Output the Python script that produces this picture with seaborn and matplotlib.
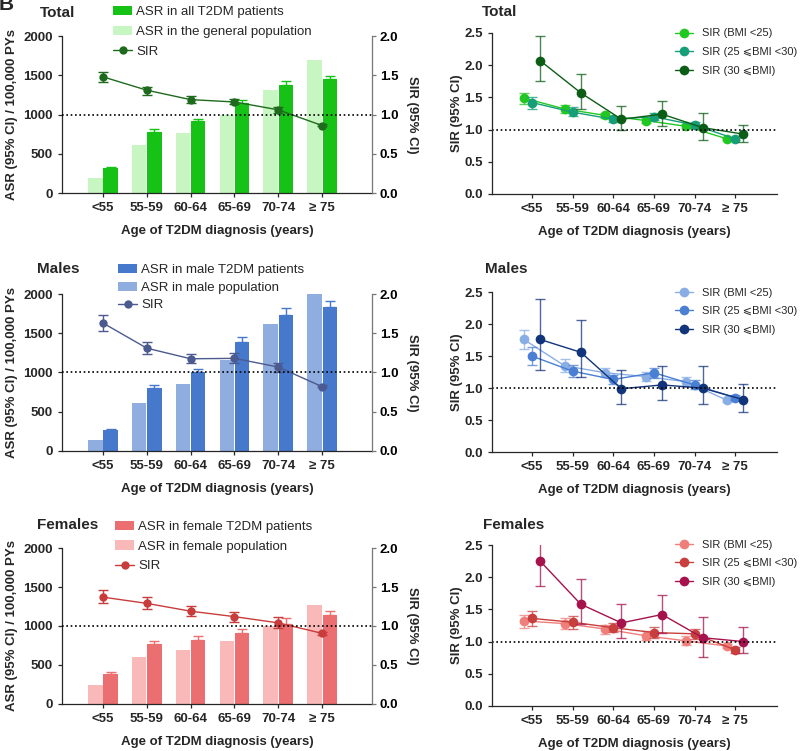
import numpy as np
import pandas as pd
import matplotlib
matplotlib.use("Agg")
import matplotlib.pyplot as plt
import seaborn as sns
from matplotlib.patches import Patch
from matplotlib.lines import Line2D

# ---------------- data ----------------
ages = ["<55", "55-59", "60-64", "65-69", "70-74", "\u2265 75"]

total_asr_t2dm = [323, 779, 913, 1142, 1373, 1447]
total_asr_t2dm_upper = [335, 813, 949, 1190, 1425, 1490]
total_asr_general = [191, 606, 770, 990, 1310, 1694]
total_sir = [1.48, 1.31, 1.19, 1.16, 1.06, 0.86]
total_sir_low = [1.41, 1.255, 1.15, 1.13, 1.025, 0.85]
total_sir_high = [1.545, 1.35, 1.23, 1.20, 1.10, 0.875]

male_asr_t2dm = [268, 800, 1000, 1383, 1730, 1840]
male_asr_t2dm_upper = [281, 843, 1047, 1447, 1820, 1910]
male_asr_general = [140, 608, 851, 1165, 1620, 2000]
male_sir = [1.63, 1.31, 1.175, 1.18, 1.07, 0.82]
male_sir_low = [1.53, 1.23, 1.12, 1.12, 1.005, 0.81]
male_sir_high = [1.73, 1.39, 1.24, 1.25, 1.12, 0.835]

female_asr_t2dm = [383, 766, 821, 906, 1030, 1140]
female_asr_t2dm_upper = [408, 813, 872, 957, 1098, 1196]
female_asr_general = [247, 600, 694, 808, 1000, 1268]
female_sir = [1.37, 1.29, 1.19, 1.12, 1.04, 0.906]
female_sir_low = [1.29, 1.217, 1.13, 1.055, 0.98, 0.89]
female_sir_high = [1.46, 1.366, 1.255, 1.18, 1.11, 0.92]

bmi_names = ["SIR (BMI <25)", "SIR (25 \u2a7dBMI <30)", "SIR (30 \u2a7dBMI)"]

total_bmi_lt25 = [1.49, 1.32, 1.22, 1.14, 1.05, 0.856]
total_bmi_lt25_low = [1.40, 1.26, 1.18, 1.10, 1.02, 0.836]
total_bmi_lt25_high = [1.57, 1.385, 1.26, 1.18, 1.08, 0.876]
total_bmi_25_30 = [1.42, 1.27, 1.16, 1.20, 1.07, 0.856]
total_bmi_25_30_low = [1.32, 1.21, 1.115, 1.15, 1.02, 0.836]
total_bmi_25_30_high = [1.50, 1.35, 1.20, 1.255, 1.125, 0.876]
total_bmi_ge30 = [2.07, 1.57, 1.16, 1.24, 1.03, 0.93]
total_bmi_ge30_low = [1.76, 1.32, 1.00, 1.06, 0.84, 0.80]
total_bmi_ge30_high = [2.45, 1.86, 1.37, 1.44, 1.255, 1.07]

male_bmi_lt25 = [1.76, 1.35, 1.24, 1.18, 1.10, 0.81]
male_bmi_lt25_low = [1.61, 1.255, 1.17, 1.11, 1.03, 0.78]
male_bmi_lt25_high = [1.905, 1.45, 1.32, 1.25, 1.17, 0.84]
male_bmi_25_30 = [1.50, 1.265, 1.135, 1.24, 1.05, 0.85]
male_bmi_25_30_low = [1.36, 1.17, 1.065, 1.16, 0.98, 0.81]
male_bmi_25_30_high = [1.645, 1.36, 1.205, 1.32, 1.12, 0.89]
male_bmi_ge30 = [1.76, 1.56, 0.99, 1.05, 1.00, 0.82]
male_bmi_ge30_low = [1.29, 1.17, 0.75, 0.81, 0.75, 0.63]
male_bmi_ge30_high = [2.385, 2.07, 1.29, 1.34, 1.34, 1.06]

female_bmi_lt25 = [1.32, 1.28, 1.195, 1.09, 1.01, 0.93]
female_bmi_lt25_low = [1.215, 1.19, 1.125, 1.02, 0.94, 0.90]
female_bmi_lt25_high = [1.42, 1.37, 1.265, 1.16, 1.08, 0.96]
female_bmi_25_30 = [1.36, 1.30, 1.215, 1.14, 1.12, 0.87]
female_bmi_25_30_low = [1.24, 1.20, 1.145, 1.06, 1.04, 0.82]
female_bmi_25_30_high = [1.48, 1.40, 1.285, 1.22, 1.20, 0.92]
female_bmi_ge30 = [2.25, 1.58, 1.29, 1.42, 1.06, 1.00]
female_bmi_ge30_low = [1.86, 1.28, 1.06, 1.14, 0.76, 0.83]
female_bmi_ge30_high = [2.67, 1.97, 1.58, 1.73, 1.38, 1.22]

# ---------------- style ----------------
sns.set_style("ticks")
plt.rcParams["font.family"] = ["Liberation Sans", "DejaVu Sans", "Noto Sans CJK SC"]
plt.rcParams["axes.linewidth"] = 0.9
plt.rcParams["xtick.major.size"] = 3
plt.rcParams["ytick.major.size"] = 3
plt.rcParams["xtick.major.width"] = 0.9
plt.rcParams["ytick.major.width"] = 0.9

fig = plt.figure(figsize=(8, 7.51), dpi=100)
FW = 800.0
FH = 751.0
TICK_FS = 9.5
LAB_FS = 9.5


def bold_ticks(ax):
    for lab in ax.get_xticklabels() + ax.get_yticklabels():
        lab.set_fontweight("bold")
        lab.set_fontsize(TICK_FS)


def left_panel(rect, title, title_xy, t2dm, t2dm_up, gen, sir, lo, hi,
               names, colors, leg_xy, leg_spacing):
    ax = fig.add_axes(rect)
    x = np.arange(len(ages))
    df = pd.DataFrame({
        "age": ages * 2,
        "value": list(gen) + list(t2dm),
        "series": [names[1]] * len(ages) + [names[0]] * len(ages),
    })
    sns.barplot(data=df, x="age", y="value", hue="series", order=ages,
                hue_order=[names[1], names[0]],
                palette=[colors[1], colors[0]], width=0.7, gap=0.06,
                saturation=1, errorbar=None, legend=False, linewidth=0, ax=ax)
    t2 = np.array(t2dm, float)
    up = np.array(t2dm_up, float)
    ax.errorbar(x + 0.175, t2, yerr=[np.zeros_like(t2), up - t2], fmt="none",
                ecolor=colors[0], elinewidth=1.0, capsize=3.5, capthick=1.0)
    ax.set_ylim(0, 2000)
    ax.set_yticks([0, 500, 1000, 1500, 2000])
    ax.set_xlim(-0.936, 6.14)
    ax.set_xticks(x)
    ax.set_xticklabels(ages)
    ax.set_xlabel("Age of T2DM diagnosis (years)", fontsize=LAB_FS,
                  fontweight="bold", va="center")
    ax.set_ylabel("ASR (95% CI) / 100,000 PYs", fontsize=LAB_FS,
                  fontweight="bold", va="center")
    ax.yaxis.set_label_coords(-0.161, 0.5)
    ax.xaxis.set_label_coords(0.5, -0.245)
    for s in ["top", "right"]:
        ax.spines[s].set_visible(False)
    bold_ticks(ax)

    ax2 = ax.twinx()
    s = np.array(sir, float)
    sns.lineplot(x=x, y=s, color=colors[2], marker="o", markersize=6,
                 markeredgewidth=0, linewidth=1.0, ax=ax2, legend=False)
    ax2.errorbar(x, s, yerr=[s - np.array(lo), np.array(hi) - s], fmt="none",
                 ecolor=colors[2], elinewidth=1.0, capsize=3.5, capthick=1.0)
    ax2.axhline(1.0, color="black", linestyle=(0, (1, 1.6)), linewidth=1.2)
    ax2.set_ylim(0, 2.0)
    ax2.set_yticks([0, 0.5, 1.0, 1.5, 2.0])
    ax2.set_yticklabels(["0.0", "0.5", "1.0", "1.5", "2.0"])
    ax2.set_xlim(-0.936, 6.14)
    for sname in ["top", "left", "bottom"]:
        ax2.spines[sname].set_visible(False)
    ax2.spines["right"].set_color("#777777")
    ax2.tick_params(axis="y", colors="#777777", labelcolor="black", pad=2.5)
    ax2.set_ylabel("SIR (95% CI)", fontsize=LAB_FS, fontweight="bold",
                   rotation=270, va="center")
    ax2.yaxis.set_label_coords(1.129, 0.5)
    bold_ticks(ax2)

    fig.text(title_xy[0] / FW, 1 - title_xy[1] / FH, title, fontsize=11,
             fontweight="bold", ha="left", va="center")
    handles = [Patch(facecolor=colors[0], edgecolor="none"),
               Patch(facecolor=colors[1], edgecolor="none"),
               Line2D([0], [0], color=colors[2], marker="o", markersize=6,
                      markeredgewidth=0, linewidth=1.0)]
    fig.legend(handles, [names[0], names[1], "SIR"], loc="upper left",
               bbox_to_anchor=(leg_xy[0] / FW, 1 - leg_xy[1] / FH),
               frameon=False, borderpad=0, borderaxespad=0, fontsize=9.5,
               handlelength=1.45, handletextpad=0.3, labelspacing=leg_spacing)
    return ax


def right_panel(rect, title, title_xy, series, colors, leg_xy):
    ax = fig.add_axes(rect)
    x = np.arange(len(ages))
    offsets = [-0.2, 0.0, 0.2]
    for off, (vals, lo, hi), c in zip(offsets, series, colors):
        v = np.array(vals, float)
        sns.lineplot(x=x + off, y=v, color=c, marker="o", markersize=7,
                     markeredgewidth=0, linewidth=1.0, ax=ax, legend=False)
        ax.errorbar(x + off, v, yerr=[v - np.array(lo), np.array(hi) - v],
                    fmt="none", ecolor=c, alpha=0.75, elinewidth=1.0,
                    capsize=3.5, capthick=1.0)
    ax.axhline(1.0, color="black", linestyle=(0, (1, 1.6)), linewidth=1.2)
    ax.set_xlim(-0.985, 6.03)
    ax.set_ylim(0, 2.5)
    ax.set_yticks([0, 0.5, 1.0, 1.5, 2.0, 2.5])
    ax.set_yticklabels(["0.0", "0.5", "1.0", "1.5", "2.0", "2.5"])
    ax.set_xticks(x)
    ax.set_xticklabels(ages)
    ax.set_xlabel("Age of T2DM diagnosis (years)", fontsize=LAB_FS,
                  fontweight="bold", va="center")
    ax.set_ylabel("SIR (95% CI)", fontsize=LAB_FS, fontweight="bold",
                  va="center")
    ax.yaxis.set_label_coords(-0.123, 0.5)
    ax.xaxis.set_label_coords(0.5, -0.235)
    for s in ["top", "right"]:
        ax.spines[s].set_visible(False)
    bold_ticks(ax)
    fig.text(title_xy[0] / FW, 1 - title_xy[1] / FH, title, fontsize=11,
             fontweight="bold", ha="left", va="center")
    handles = [Line2D([0], [0], color=c, marker="o", markersize=7,
                      markeredgewidth=0, linewidth=1.0) for c in colors]
    fig.legend(handles, bmi_names, loc="upper left",
               bbox_to_anchor=(leg_xy[0] / FW, 1 - leg_xy[1] / FH),
               frameon=False, borderpad=0, borderaxespad=0, fontsize=8,
               handlelength=1.6, handletextpad=0.8, labelspacing=0.78)
    return ax


# ---------------- panels ----------------
left_panel([0.0775, 0.743, 0.3875, 0.209], "Total", (40, 13),
           total_asr_t2dm, total_asr_t2dm_upper, total_asr_general,
           total_sir, total_sir_low, total_sir_high,
           ["ASR in all T2DM patients", "ASR in the general population"],
           ["#17c217", "#c8f6c2", "#1e6b1e"], (113, 5.5), 0.59)

left_panel([0.0775, 0.3995, 0.3875, 0.209], "Males", (37, 269),
           male_asr_t2dm, male_asr_t2dm_upper, male_asr_general,
           male_sir, male_sir_low, male_sir_high,
           ["ASR in male T2DM patients", "ASR in male population"],
           ["#4678cc", "#8fadde", "#4b5a8f"], (118, 264), 0.4)

left_panel([0.0775, 0.0626, 0.3875, 0.2077], "Females", (37, 525),
           female_asr_t2dm, female_asr_t2dm_upper, female_asr_general,
           female_sir, female_sir_low, female_sir_high,
           ["ASR in female T2DM patients", "ASR in female population"],
           ["#eb6e70", "#f9b9b9", "#c83c3c"], (115, 521), 0.55)

right_panel([0.615, 0.7417, 0.35625, 0.2144], "Total", (482, 12),
            [(total_bmi_lt25, total_bmi_lt25_low, total_bmi_lt25_high),
             (total_bmi_25_30, total_bmi_25_30_low, total_bmi_25_30_high),
             (total_bmi_ge30, total_bmi_ge30_low, total_bmi_ge30_high)],
            ["#22c822", "#169e79", "#0c5e16"], (675, 28.5))

right_panel([0.615, 0.398, 0.35625, 0.213], "Males", (485, 269),
            [(male_bmi_lt25, male_bmi_lt25_low, male_bmi_lt25_high),
             (male_bmi_25_30, male_bmi_25_30_low, male_bmi_25_30_high),
             (male_bmi_ge30, male_bmi_ge30_low, male_bmi_ge30_high)],
            ["#89aee6", "#4a7fd4", "#12347a"], (675, 287.5))

right_panel([0.615, 0.06, 0.35625, 0.2143], "Females", (483, 525),
            [(female_bmi_lt25, female_bmi_lt25_low, female_bmi_lt25_high),
             (female_bmi_25_30, female_bmi_25_30_low, female_bmi_25_30_high),
             (female_bmi_ge30, female_bmi_ge30_low, female_bmi_ge30_high)],
            ["#f07e7a", "#c8403e", "#a5124c"], (675, 539.5))

fig.text(-0.002, 1.006, "B", fontsize=15, fontweight="bold", ha="left", va="top")

fig.savefig("out.png", dpi=100)
